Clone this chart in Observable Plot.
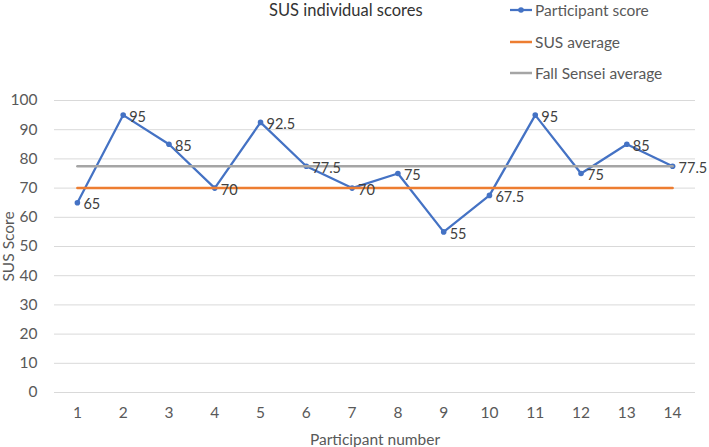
<!DOCTYPE html>
<html>
<head>
<meta charset="utf-8">
<script src="https://cdn.jsdelivr.net/npm/d3@7"></script>
<script src="https://cdn.jsdelivr.net/npm/@observablehq/plot@0.6"></script>
<style>
  html, body { margin: 0; padding: 0; background: #fff; overflow: hidden; }
  #wrap { position: relative; width: 709px; height: 447px; overflow: hidden; font-family: Lato, "Open Sans", sans-serif; }
  #chart svg { display: block; max-width: none !important; }
  #title { position: absolute; left: 269px; top: 0px; font-size: 16.5px; color: #333; line-height: 20px; white-space: nowrap; }
  #legend { position: absolute; left: 510px; top: 0px; font-size: 15.5px; color: #595959; }
  .row { position: absolute; left: 0; height: 20px; line-height: 20px; white-space: nowrap; display: flex; align-items: center; }
  .row svg { margin-right: 3px; }
</style>
</head>
<body>
<div id="wrap">
  <div id="chart"></div>
  <div id="title"></div>
  <div id="legend"></div>
</div>
<script>
const titleText = "SUS individual scores";
const participants = [1, 2, 3, 4, 5, 6, 7, 8, 9, 10, 11, 12, 13, 14];
const scores = [65, 95, 85, 70, 92.5, 77.5, 70, 75, 55, 67.5, 95, 75, 85, 77.5];
const susAverage = [70, 70, 70, 70, 70, 70, 70, 70, 70, 70, 70, 70, 70, 70];
const fallSenseiAverage = [77.5, 77.5, 77.5, 77.5, 77.5, 77.5, 77.5, 77.5, 77.5, 77.5, 77.5, 77.5, 77.5, 77.5];
const yTicks = [0, 10, 20, 30, 40, 50, 60, 70, 80, 90, 100];
const seriesNames = ["Participant score", "SUS average", "Fall Sensei average"];
const seriesColors = ["#4472C4", "#ED7D31", "#A5A5A5"];

const rowsScore = participants.map((p, i) => ({p, v: scores[i]}));
const rowsSus = participants.map((p, i) => ({p, v: susAverage[i]}));
const rowsFall = participants.map((p, i) => ({p, v: fallSenseiAverage[i]}));

const chart = Plot.plot({
  width: 709,
  height: 447,
  marginTop: 100,
  marginBottom: 55,
  marginLeft: 54,
  marginRight: 14,
  style: {fontFamily: "Lato, 'Open Sans', sans-serif", fontSize: "15.5px", color: "#595959", background: "transparent"},
  x: {type: "point", domain: participants, padding: 0.5, round: false},
  y: {domain: [0, 100]},
  marks: [
    Plot.gridY(yTicks, {stroke: "#d9d9d9", strokeOpacity: 1, strokeWidth: 1}),
    Plot.axisY({ticks: yTicks, tickSize: 0, tickPadding: 17, label: "SUS Score", labelAnchor: "center", labelArrow: "none", labelOffset: 52, fill: "#595959"}),
    Plot.axisX({tickSize: 0, tickPadding: 14, label: "Participant number", labelAnchor: "center", labelArrow: "none", labelOffset: 52, fill: "#595959"}),
    Plot.line(rowsScore, {x: "p", y: "v", stroke: seriesColors[0], strokeWidth: 2.25}),
    Plot.dot(rowsScore, {x: "p", y: "v", r: 2.8, fill: seriesColors[0], stroke: "none"}),
    Plot.line(rowsSus, {x: "p", y: "v", stroke: seriesColors[1], strokeWidth: 2.5}),
    Plot.line(rowsFall, {x: "p", y: "v", stroke: seriesColors[2], strokeWidth: 2.5}),
    Plot.text(rowsScore, {x: "p", y: "v", text: d => String(d.v), textAnchor: "start", dx: 6, dy: 2, fill: "#404040", fontSize: 14.5})
  ]
});
document.getElementById("chart").appendChild(chart);

document.getElementById("title").textContent = titleText;

const legend = document.getElementById("legend");
const rowTops = [0, 32, 63];
seriesNames.forEach((name, i) => {
  const row = document.createElement("div");
  row.className = "row";
  row.style.top = rowTops[i] + "px";
  const sw = i === 0
    ? `<svg width="22" height="8"><line x1="0" y1="4" x2="22" y2="4" stroke="${seriesColors[i]}" stroke-width="2.25"/><circle cx="11" cy="4" r="2.8" fill="${seriesColors[i]}"/></svg>`
    : `<svg width="22" height="8"><line x1="0" y1="4" x2="22" y2="4" stroke="${seriesColors[i]}" stroke-width="2.5"/></svg>`;
  row.innerHTML = sw + `<span>${name}</span>`;
  legend.appendChild(row);
});
</script>
</body>
</html>
